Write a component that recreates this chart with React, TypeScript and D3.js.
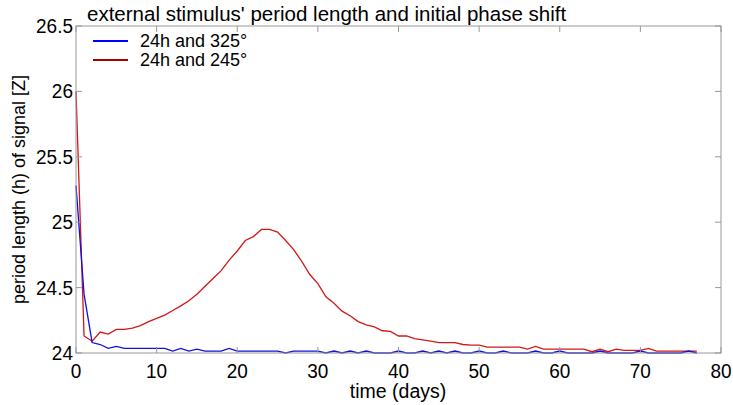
import React from "react";
import * as d3 from "d3";

const days = d3.range(0, 78);

const redSeries = [
  26.0, 24.13, 24.09, 24.16, 24.145, 24.18, 24.18, 24.19, 24.21, 24.24,
  24.265, 24.29, 24.325, 24.36, 24.4, 24.45, 24.51, 24.57, 24.63, 24.71,
  24.78, 24.86, 24.89, 24.945, 24.945, 24.925, 24.86, 24.79, 24.7, 24.6,
  24.53, 24.43, 24.38, 24.32, 24.285, 24.24, 24.215, 24.2, 24.17, 24.165,
  24.13, 24.13, 24.11, 24.1, 24.09, 24.08, 24.08, 24.08, 24.065, 24.06,
  24.06, 24.045, 24.045, 24.045, 24.045, 24.045, 24.03, 24.05, 24.03, 24.03,
  24.03, 24.03, 24.03, 24.03, 24.01, 24.03, 24.01, 24.03, 24.02, 24.02,
  24.02, 24.035, 24.015, 24.015, 24.015, 24.015, 24.015, 24.015,
];

const blueSeries = [
  25.28, 24.45, 24.08, 24.065, 24.035, 24.05, 24.035, 24.035, 24.035, 24.035,
  24.035, 24.035, 24.015, 24.035, 24.015, 24.03, 24.015, 24.015, 24.015, 24.035,
  24.015, 24.015, 24.015, 24.015, 24.015, 24.015, 24.0, 24.015, 24.015, 24.015,
  24.015, 24.0, 24.015, 24.0, 24.015, 24.0, 24.015, 24.0, 24.0, 24.0,
  24.015, 24.0, 24.0, 24.015, 24.0, 24.015, 24.0, 24.015, 24.0, 24.0,
  24.015, 24.0, 24.0, 24.015, 24.0, 24.0, 24.0, 24.015, 24.0, 24.0,
  24.015, 24.0, 24.0, 24.0, 24.0, 24.015, 24.0, 24.0, 24.0, 24.0,
  24.015, 24.0, 24.0, 24.0, 24.0, 24.0, 24.015, 24.0,
];

const xTicks = [0, 10, 20, 30, 40, 50, 60, 70, 80];
const yTicks = [24, 24.5, 25, 25.5, 26, 26.5];
const yTickLabels = ["24", "24.5", "25", "25.5", "26", "26.5"];
const seriesNames = ["24h and 325°", "24h and 245°"];

const W = 733;
const H = 405;
const left = 76;
const right = 721;
const top = 26;
const bottom = 353;
const font = "Liberation Sans, Arial, sans-serif";

export default function App() {
  const x = d3.scaleLinear().domain([0, 80]).range([left, right]);
  const y = d3.scaleLinear().domain([24, 26.5]).range([bottom, top]);
  const line = d3
    .line<number>()
    .x((_, i) => x(days[i]))
    .y((d) => y(d));
  const axisColor = "#999";
  const tickLen = 6;

  return (
    <svg
      width={W}
      height={H}
      style={{ position: "fixed", left: 0, top: 0, background: "#fff" }}
      fontFamily={font}
    >
      <rect x={0} y={0} width={W} height={H} fill="#fff" />
      {/* lines */}
      <path d={line(redSeries) || ""} fill="none" stroke="#d01818" strokeWidth={1.3} />
      <path d={line(blueSeries) || ""} fill="none" stroke="#1010e0" strokeWidth={1.3} />
      {/* box */}
      <rect
        x={left}
        y={top}
        width={right - left}
        height={bottom - top}
        fill="none"
        stroke={axisColor}
        strokeWidth={1}
      />
      {xTicks.map((t) => (
        <g key={"x" + t}>
          <line x1={x(t)} x2={x(t)} y1={bottom} y2={bottom - tickLen} stroke={axisColor} />
          <line x1={x(t)} x2={x(t)} y1={top} y2={top + tickLen} stroke={axisColor} />
          <text
            x={x(t)}
            y={378}
            textAnchor="middle"
            fontSize={19}
            fill="#000"
            transform={`translate(0, 378) scale(1, 1.1) translate(0, -378)`}
          >
            {t}
          </text>
        </g>
      ))}
      {yTicks.map((t, i) => (
        <g key={"y" + t}>
          <line x1={left} x2={left + tickLen} y1={y(t)} y2={y(t)} stroke={axisColor} />
          <line x1={right} x2={right - tickLen} y1={y(t)} y2={y(t)} stroke={axisColor} />
          <text
            x={73}
            y={y(t) + 7}
            textAnchor="end"
            fontSize={19}
            fill="#000"
            transform={`translate(0, ${y(t) + 7}) scale(1, 1.1) translate(0, ${-(y(t) + 7)})`}
          >
            {yTickLabels[i]}
          </text>
        </g>
      ))}
      {/* title */}
      <text x={87} y={21} fontSize={20.5} fill="#000">
        external stimulus' period length and initial phase shift
      </text>
      {/* legend */}
      <line x1={93} x2={128} y1={41} y2={41} stroke="#0000ff" strokeWidth={2} />
      <text x={140} y={47} fontSize={18} fill="#000">
        {seriesNames[0]}
      </text>
      <line x1={93} x2={128} y1={60} y2={60} stroke="#a00000" strokeWidth={2} />
      <text x={140} y={66} fontSize={18} fill="#000">
        {seriesNames[1]}
      </text>
      {/* axis labels */}
      <text x={398} y={398} textAnchor="middle" fontSize={19.5} fill="#000">
        time (days)
      </text>
      <text
        transform={`translate(25, ${(top + bottom) / 2}) rotate(-90)`}
        textAnchor="middle"
        fontSize={18}
        fill="#000"
      >
        period length (h) of signal [Z]
      </text>
    </svg>
  );
}
